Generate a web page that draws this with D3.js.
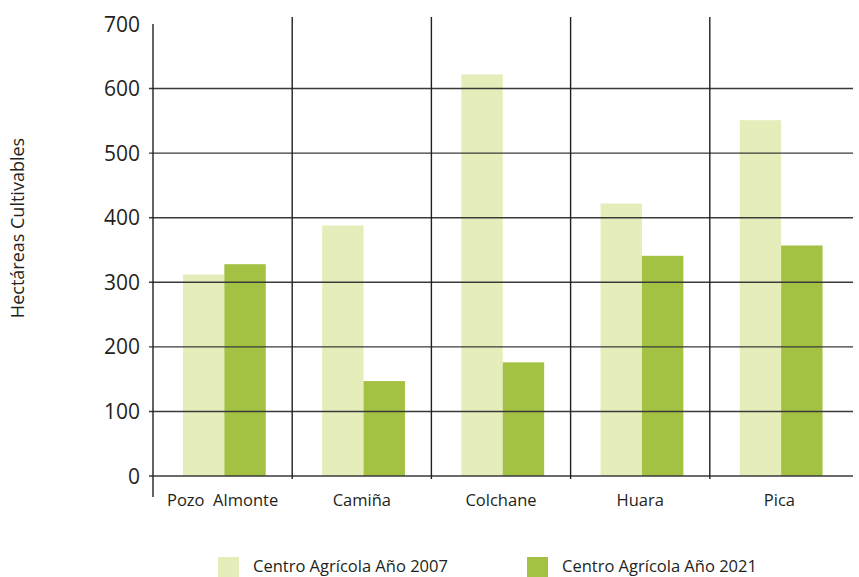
<!DOCTYPE html>
<html>
<head>
<meta charset="utf-8">
<script src="https://cdn.jsdelivr.net/npm/d3@7"></script>
<style>
  body { margin: 0; background: #fff; }
  text { font-family: "Open Sans", sans-serif; fill: #231f20; }
</style>
</head>
<body>
<svg></svg>
<script>
var categories = ["Pozo  Almonte", "Camiña", "Colchane", "Huara", "Pica"];
var series = ["Centro Agrícola Año 2007", "Centro Agrícola Año 2021"];
var values2007 = [312, 388, 622, 422, 551];
var values2021 = [328, 147, 176, 341, 357];
var yTicks = [0, 100, 200, 300, 400, 500, 600, 700];
var colors = ["#e5eeba", "#a3c142"];

var screen = {width: 859, height: 577};
var plot = {left: 153, right: 849, top: 24, bottom: 476};

var svg = d3.select("svg")
    .attr("width", screen.width)
    .attr("height", screen.height);

var xScale = d3.scaleBand()
    .domain(categories)
    .range([plot.left, plot.right])
    .padding(0);

var bw = xScale.bandwidth();
var x1 = d3.scaleBand()
    .domain(series)
    .range([bw * 0.215, bw * 0.81])
    .padding(0);

var yScale = d3.scaleLinear()
    .domain([0, 700])
    .range([plot.bottom, plot.top]);

var rows = categories.map(function(c, i){
    return {cat: c, vals: [values2007[i], values2021[i]]};
});

// bars first, lines on top
var groups = svg.append("g")
    .selectAll("g")
    .data(rows)
    .enter()
    .append("g")
    .attr("transform", function(d){ return "translate(" + xScale(d.cat) + ",0)"; });

groups.selectAll("rect")
    .data(function(d){ return d.vals.map(function(v, j){ return {s: series[j], v: v, j: j}; }); })
    .enter()
    .append("rect")
    .attr("x", function(d){ return x1(d.s); })
    .attr("width", x1.bandwidth())
    .attr("y", function(d){ return yScale(d.v); })
    .attr("height", function(d){ return yScale(0) - yScale(d.v); })
    .attr("fill", function(d){ return colors[d.j]; });

// horizontal grid lines (0 - 600)
svg.append("g")
    .selectAll("line")
    .data(yTicks.filter(function(t){ return t < 700; }))
    .enter()
    .append("line")
    .attr("x1", plot.left - 4)
    .attr("x2", 853)
    .attr("y1", function(d){ return yScale(d); })
    .attr("y2", function(d){ return yScale(d); })
    .attr("stroke", "#3a3a3a")
    .attr("stroke-width", 1.4);

// vertical separators between categories
svg.append("g")
    .selectAll("line")
    .data(categories.slice(1))
    .enter()
    .append("line")
    .attr("x1", function(d){ return xScale(d); })
    .attr("x2", function(d){ return xScale(d); })
    .attr("y1", 17)
    .attr("y2", 479)
    .attr("stroke", "#231f20")
    .attr("stroke-width", 1.4);

// left axis line
svg.append("line")
    .attr("x1", plot.left).attr("x2", plot.left)
    .attr("y1", plot.top).attr("y2", 497)
    .attr("stroke", "#231f20")
    .attr("stroke-width", 1.4);

// y tick labels
svg.append("g")
    .selectAll("text")
    .data(yTicks)
    .enter()
    .append("text")
    .attr("x", 140)
    .attr("y", function(d){ return yScale(d); })
    .attr("dy", "0.36em")
    .attr("text-anchor", "end")
    .style("font-size", "21px")
    .text(function(d){ return d; });

// category labels
svg.append("g")
    .selectAll("text")
    .data(categories)
    .enter()
    .append("text")
    .attr("x", function(d){ return xScale(d) + bw / 2; })
    .attr("y", 506)
    .attr("text-anchor", "middle")
    .attr("xml:space", "preserve")
    .style("white-space", "pre")
    .style("font-size", "16.5px")
    .text(function(d){ return d; });

// y axis title
svg.append("text")
    .attr("transform", "translate(24,228) rotate(-90)")
    .attr("text-anchor", "middle")
    .style("font-size", "18px")
    .text("Hectáreas Cultivables");

// legend
var legendX = [218, 527];
var legend = svg.append("g")
    .selectAll("g")
    .data(series)
    .enter()
    .append("g")
    .attr("transform", function(d, i){ return "translate(" + legendX[i] + ",557)"; });

legend.append("rect")
    .attr("width", 21)
    .attr("height", 20)
    .attr("fill", function(d, i){ return colors[i]; });

legend.append("text")
    .attr("x", 35)
    .attr("y", 15)
    .style("font-size", "16.5px")
    .text(function(d){ return d; });
</script>
</body>
</html>
